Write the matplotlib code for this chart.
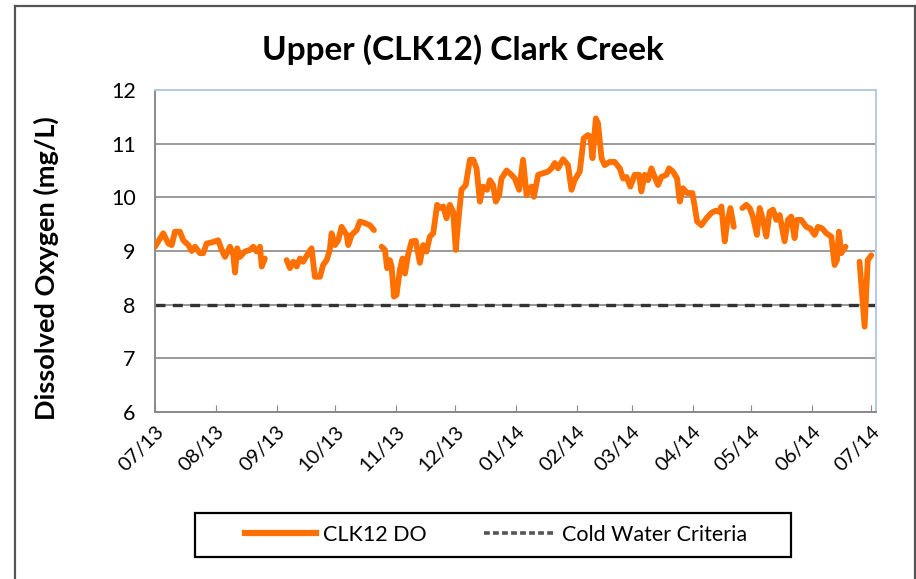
import numpy as np
import pandas as pd
import matplotlib
matplotlib.use("Agg")
import matplotlib.pyplot as plt
from matplotlib.lines import Line2D
from matplotlib.patches import Rectangle

plt.rcParams['font.family'] = ['Lato', 'DejaVu Sans']

start_date = "2013-07-01"
# days since start (NaN = gap) and dissolved oxygen (mg/L)
days = [0, 4.2, 6.8, 8.5, 10.2, 12.7, 14.4, 17.0, 18.7, 20.4, 22.9, 24.6, 26.3, 28.9,
        32.2, 34.0, 35.7, 38.2, 39.9, 40.8, 41.9, 43.3, 45.8, 48.4, 50.1, 51.8, 53.5,
        54.4, 56.0, 60,
        67.1, 68.8, 70.5, 72.2, 73.9, 75.5, 78.1, 79.8, 81.5, 84.1, 85.7, 87.5, 89.1,
        90.0, 91.7, 93.4, 95.1, 97.7, 98.5, 100.2, 102.8, 104.4, 107.0, 109.5, 111.6, 113,
        115.5, 117.2, 118.3, 119.7, 120.6, 121.8, 123.1, 124.8, 126.2, 127.4, 129.0, 130.8,
        132.9, 135.0, 136.7, 138.4, 140.1, 141.8, 143.8, 145.2, 146.9, 148.6, 150.3, 152.0,
        153.3, 154.5, 156.2, 158.4, 160.5, 162.2, 163.9, 165.6, 167.2, 169.3, 170.7, 172.3,
        173.7, 175.4, 176.6, 179.2, 181.7, 183.4, 185.6, 187.6, 189.4, 191.9, 193.1, 195.3,
        197.8, 200.4, 202.1, 203.8, 205.4, 208.0, 210.5, 212.3, 213.9, 216.5, 218.5, 220.7,
        221.9, 223.0, 224.7, 225.8, 227.6, 229.2, 231.8, 234.3, 236.9, 238.6, 240.3, 242.3,
        244.5, 246.7, 247.9, 249.6, 251.3, 253.0, 254.7, 256.4, 258.1, 260.7, 262.0, 264.0,
        266.1, 267.5, 269.1, 271.2, 273.9, 275.1, 276.3, 278.5, 281.1, 283.6, 285.8, 287.5,
        288.7, 290.4, 291.6, 293.3, 295.0, 297,
        299.4, 301.4, 303.1, 304.8, 306.8, 308.2, 309.9, 311.6, 313.3, 315.0, 316.7, 318.4,
        320.9, 322.6, 324.3, 326.0, 327.2, 329.4, 332.0, 334.0, 336.2, 337.9, 340.1, 342.2,
        344.7, 346.4, 347.6, 348.6, 349.8, 352.0, 355,
        359.1, 361.7, 363.3, 365.1]
do_values = [9.08, 9.33, 9.14, 9.11, 9.36, 9.36, 9.20, 9.11, 9.00, 9.08, 8.96, 8.96, 9.14, 9.16,
             9.20, 9.02, 8.89, 9.08, 8.93, 8.60, 9.05, 8.89, 8.99, 9.02, 9.08, 8.99, 9.08,
             8.71, 8.86, np.nan,
             8.83, 8.68, 8.80, 8.71, 8.86, 8.80, 8.96, 9.05, 8.52, 8.52, 8.74, 8.83, 9.02,
             9.33, 9.11, 9.20, 9.45, 9.30, 9.11, 9.30, 9.39, 9.55, 9.52, 9.48, 9.39, np.nan,
             9.08, 9.02, 8.68, 8.83, 8.71, 8.15, 8.18, 8.65, 8.86, 8.58, 8.93, 9.18,
             9.19, 8.78, 9.11, 8.99, 9.27, 9.33, 9.86, 9.80, 9.83, 9.61, 9.86, 9.73,
             9.02, 9.52, 10.14, 10.23, 10.70, 10.70, 10.54, 9.92, 10.20, 10.14, 10.32, 10.23,
             9.92, 10.04, 10.35, 10.50, 10.42, 10.35, 10.14, 10.70, 10.04, 10.20, 10.01, 10.42,
             10.45, 10.48, 10.54, 10.64, 10.54, 10.71, 10.60, 10.14, 10.32, 10.48, 11.10, 11.16,
             11.13, 10.73, 11.47, 11.38, 10.73, 10.60, 10.66, 10.66, 10.54, 10.35, 10.38, 10.20,
             10.42, 10.42, 10.11, 10.42, 10.32, 10.54, 10.38, 10.23, 10.38, 10.42, 10.54, 10.48,
             10.35, 9.92, 10.17, 10.08, 10.08, 9.83, 9.55, 9.48, 9.61, 9.71, 9.75, 9.73,
             9.83, 9.18, 9.52, 9.80, 9.45, np.nan,
             9.80, 9.86, 9.80, 9.64, 9.30, 9.80, 9.58, 9.27, 9.73, 9.77, 9.58, 9.67,
             9.18, 9.58, 9.64, 9.24, 9.58, 9.58, 9.45, 9.42, 9.30, 9.45, 9.42, 9.33,
             9.27, 8.74, 8.83, 9.36, 8.96, 9.08, np.nan,
             8.80, 7.59, 8.83, 8.92]
criteria_value = 8.0
tick_months = ["2013-07", "2013-08", "2013-09", "2013-10", "2013-11", "2013-12", "2014-01",
               "2014-02", "2014-03", "2014-04", "2014-05", "2014-06", "2014-07"]
series_labels = ["CLK12 DO", "Cold Water Criteria"]
title = "Upper (CLK12) Clark Creek"
ylabel = "Dissolved Oxygen (mg/L)"

dates = pd.Timestamp(start_date) + pd.to_timedelta(np.array(days), unit="D")
x_start = pd.Timestamp("2013-07-01")
x_end = pd.Timestamp("2014-07-03 12:00")

fig = plt.figure(figsize=(9.16, 5.79), dpi=100)
ax = fig.add_axes([155/916, 1-412/579, (876-155)/916, (412-90)/579])

orange = "#FF7000"
ax.plot(dates, do_values, color=orange, lw=4.2, solid_capstyle="round",
        solid_joinstyle="round", label=series_labels[0], zorder=3)
ax.plot([x_start, x_end], [criteria_value, criteria_value], color="#333333", lw=2.4,
        dashes=(3, 2.2), label=series_labels[1], zorder=2)

ax.set_xlim(x_start, x_end)
ax.set_ylim(6, 12)
ax.set_yticks(range(6, 13))
ax.yaxis.grid(True, color="#9a9a9a", lw=1.4)
ax.set_axisbelow(True)

ticks = [pd.Timestamp(m + "-01") for m in tick_months]
ax.set_xticks(ticks)
ax.set_xticklabels([t.strftime("%m/%y") for t in ticks], rotation=45, ha="right",
                   rotation_mode="anchor", fontsize=14.5)
ax.tick_params(axis="x", direction="in", length=5, color="#888888", pad=8)
ax.tick_params(axis="y", length=0, labelsize=15.5, pad=14)

for s in ["left", "bottom"]:
    ax.spines[s].set_color("#8a8a8a")
    ax.spines[s].set_linewidth(1.4)
for s in ["top", "right"]:
    ax.spines[s].set_color("#b4c8e6")
    ax.spines[s].set_linewidth(1.4)

fig.text(463/916, 1-50/579, title, ha="center", va="center", fontsize=24, fontweight="bold")
fig.text(46/916, 1-268/579, ylabel, ha="center", va="center", rotation=90,
         fontsize=19.5, fontweight="bold")

# legend box
fig.add_artist(Rectangle((195/916, 1-557/579), (791-195)/916, 44/579,
                         transform=fig.transFigure, fill=False, edgecolor="black", lw=1.6))
handles = [Line2D([], [], color=orange, lw=4.5),
           Line2D([], [], color="#555555", lw=2.6, dashes=(1.6, 0.9))]
leg = fig.legend(handles, series_labels, loc="center", ncol=2,
                 bbox_to_anchor=(496/916, 1-535/579), fontsize=15.5, frameon=False,
                 handlelength=3.3, handletextpad=0.3, columnspacing=2.7, borderaxespad=0)

# outer chart frame
frame_color = "#555555"
fig.add_artist(Line2D([15/916, 15/916], [0, 1-6/579], color=frame_color, lw=1.6))
fig.add_artist(Line2D([15/916, 915/916], [1-6/579, 1-6/579], color=frame_color, lw=1.6))
fig.add_artist(Line2D([914.5/916, 914.5/916], [0, 1-6/579], color=frame_color, lw=1.6))

fig.savefig("out.png", dpi=100)
